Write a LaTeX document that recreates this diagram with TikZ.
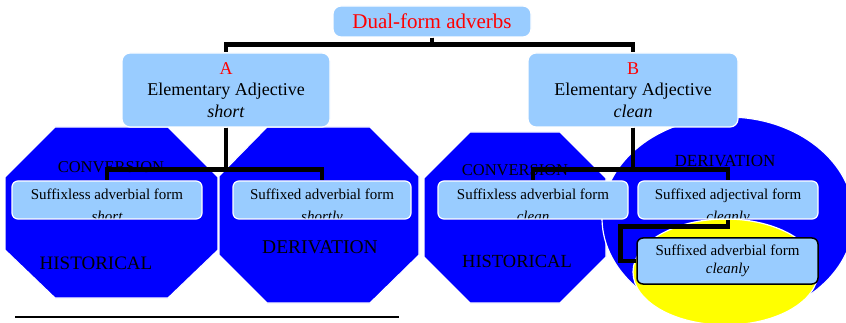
\documentclass[tikz,border=0pt]{standalone}
\usepackage{fontspec}
\setmainfont{Liberation Serif}
\usepackage{xcolor}
\definecolor{paleblue}{HTML}{99CCFF}
\definecolor{deepblue}{HTML}{0000FF}
\definecolor{sunyellow}{HTML}{FFFF00}

\tikzset{
  form/.style={rectangle, rounded corners=8, fill=paleblue, draw=white,
               line width=1.2, inner sep=0pt, align=center},
  big/.style={form, minimum width=208, minimum height=74,
              font=\fontsize{18}{21.5}\selectfont},
  leaf/.style={form, rounded corners=6, minimum height=38,
               text height=12, text depth=12,
               font=\fontsize{15}{18}\selectfont,
               path picture={\node[anchor=base, inner sep=0pt, text height=, text depth=,
                                   minimum width=0pt, minimum height=0pt,
                                   font=\fontsize{15}{18}\selectfont\itshape]
                 at ([yshift=-22pt]path picture bounding box.center) {#1};}},
  tag/.style={text=black, inner sep=0pt},
  link/.style={line width=4.5, line join=miter},
  zone/.style={fill=deepblue, draw=white, line width=1.2}
}

\begin{document}
\begin{tikzpicture}[x=1pt, y=-1pt]
\useasboundingbox (0,0) rectangle (846,323);
\clip (0,0) rectangle (846,323);

\draw[zone] (55,127) -- (168,127) -- (218,177) -- (218,250) -- (168,298)
    -- (55,298) -- (5,250) -- (5,177) -- cycle;
\draw[zone] (267,127) -- (370,127) -- (419,176) -- (419,255) -- (370,303)
    -- (267,303) -- (219,255) -- (219,176) -- cycle;
\draw[zone] (470,132) -- (560,132) -- (606,178) -- (606,257) -- (560,303)
    -- (470,303) -- (424,257) -- (424,178) -- cycle;
\draw[zone] (728,218) ellipse [x radius=126, y radius=101];
\draw[zone, fill=sunyellow] (725.5,272) ellipse [x radius=92.5, y radius=53];

\path
    (111,167) node[tag, font=\fontsize{16.5}{16}\selectfont] (convA) {CONVERSION}
    (96,263)  node[tag, font=\fontsize{19}{18}\selectfont] (histA) {HISTORICAL}
    (320,247) node[tag, font=\fontsize{19.5}{18}\selectfont] (derivA) {DERIVATION}
    (515,170) node[tag, font=\fontsize{16.5}{16}\selectfont] (convB) {CONVERSION}
    (517,261) node[tag, font=\fontsize{18.5}{18}\selectfont] (histB) {HISTORICAL}
    (725,161) node[tag, font=\fontsize{17}{16}\selectfont] (derivB) {DERIVATION}
    ;

\path
    (432,21.5) node[form, minimum width=198, minimum height=31, text=red,
                    font=\fontsize{21}{24}\selectfont] (top) {Dual-form adverbs}
    (226,90)  node[big] (a) {\textcolor{red}{A}\\Elementary Adjective\\\textit{short}}
    (633,90)  node[big, minimum width=210] (b) {\textcolor{red}{B}\\Elementary Adjective\\\textit{clean}}
    (107,200) node[leaf=short, minimum width=190] (a1) {Suffixless adverbial form}
    (322,200) node[leaf=shortly, minimum width=178] (a2) {Suffixed adverbial form}
    (533,200) node[leaf=clean, minimum width=190] (b1) {Suffixless adverbial form}
    (728,200) node[leaf=cleanly, minimum width=180] (b2) {Suffixed adjectival form}
    (727.5,261) node[form, draw=black, line width=1.5, rounded corners=6,
                     minimum width=181, minimum height=46,
                     font=\fontsize{15}{18}\selectfont] (b3) {Suffixed adverbial form\\\textit{cleanly}}
    ;

\draw[link] (top.south) -- ++(0,7) -| (a.north);
\draw[link] (top.south) -- ++(0,7) -| (b.north);
\draw[link] (a.south) -- ++(0,42) -| (a1.north);
\draw[link] (a.south) -- ++(0,42) -| (a2.north);
\draw[link] (b.south) -- ++(0,42) -| (b1.north);
\draw[link] (b.south) -- ++(0,42) -| (b2.north);
\coordinate (bend) at ([xshift=-16pt]b3.west);
\draw[link] (b2.south) -- ++(0,7) -| (bend) -- (b3.west);

\draw[line width=2] (15,317) -- (399,317);

\end{tikzpicture}
\end{document}
